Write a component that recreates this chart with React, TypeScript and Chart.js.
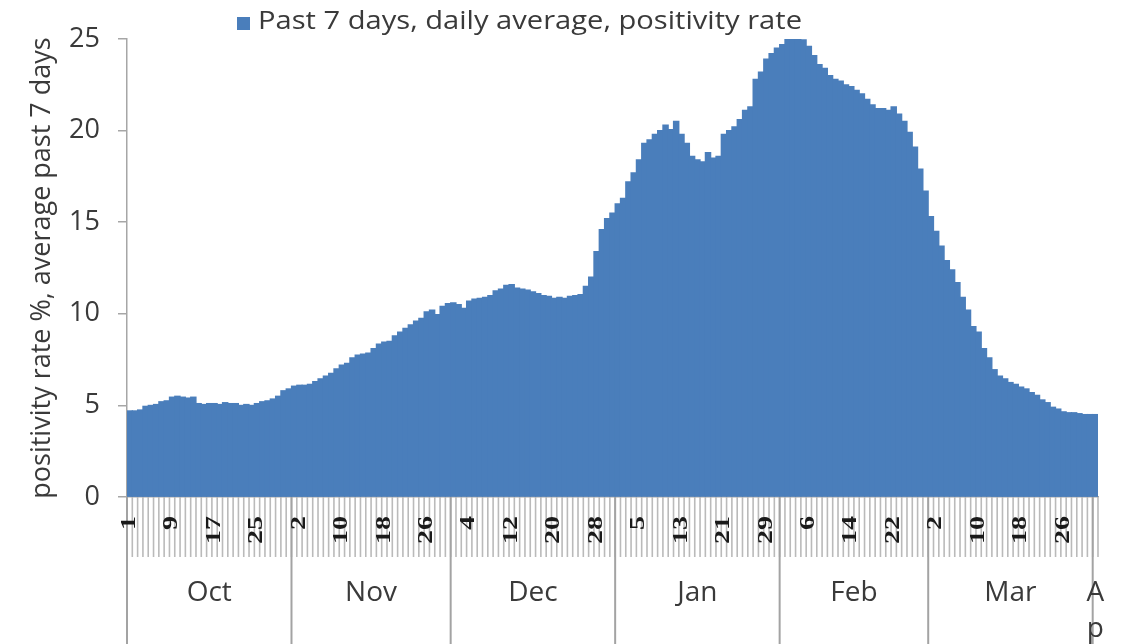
import React, { useEffect, useRef } from 'react';
import { Chart, registerables } from 'chart.js';

Chart.register(...registerables);

// ---- data -------------------------------------------------------------
const MONTHS = ['Oct', 'Nov', 'Dec', 'Jan', 'Feb', 'Mar', 'Apr'];

const OCT_VALUES = [
  4.7, 4.7, 4.75, 4.95, 5.0, 5.05, 5.2, 5.25, 5.45, 5.5,
  5.45, 5.4, 5.45, 5.1, 5.05, 5.1, 5.1, 5.05, 5.15, 5.1,
  5.1, 5.0, 5.05, 5.0, 5.1, 5.2, 5.25, 5.35, 5.5, 5.8, 5.9,
];
const NOV_VALUES = [
  6.05, 6.1, 6.1, 6.15, 6.3, 6.45, 6.6, 6.75, 7.0, 7.2,
  7.3, 7.6, 7.75, 7.8, 7.85, 8.1, 8.35, 8.45, 8.5, 8.8,
  9.0, 9.2, 9.4, 9.6, 9.75, 10.1, 10.2, 9.95, 10.4, 10.55,
];
const DEC_VALUES = [
  10.6, 10.5, 10.3, 10.7, 10.8, 10.85, 10.9, 11.0, 11.25, 11.35,
  11.55, 11.6, 11.4, 11.35, 11.3, 11.2, 11.1, 11.0, 10.95, 10.85,
  10.9, 10.85, 10.95, 11.0, 11.05, 11.5, 12.0, 13.4, 14.6, 15.2, 15.5,
];
const JAN_VALUES = [
  16.0, 16.3, 17.2, 17.7, 18.4, 19.3, 19.5, 19.8, 20.0, 20.3,
  20.05, 20.5, 19.8, 19.3, 18.6, 18.4, 18.3, 18.8, 18.5, 18.6,
  19.8, 20.0, 20.2, 20.6, 21.1, 21.3, 22.8, 23.2, 23.9, 24.2, 24.5,
];
const FEB_VALUES = [
  24.7, 25.0, 25.0, 25.0, 24.95, 24.6, 24.1, 23.6, 23.4, 23.0,
  22.8, 22.7, 22.5, 22.4, 22.2, 22.0, 21.7, 21.4, 21.2, 21.2,
  21.1, 21.3, 20.9, 20.5, 19.9, 19.1, 17.9, 16.7,
];
const MAR_VALUES = [
  15.3, 14.5, 13.7, 12.9, 12.4, 11.7, 10.9, 10.2, 9.3, 9.0,
  8.1, 7.6, 6.95, 6.6, 6.45, 6.25, 6.15, 6.0, 5.9, 5.7,
  5.55, 5.3, 5.15, 4.9, 4.8, 4.65, 4.6, 4.6, 4.55, 4.5, 4.5,
];
const APR_VALUES = [4.5];

const MONTH_VALUES = [OCT_VALUES, NOV_VALUES, DEC_VALUES, JAN_VALUES, FEB_VALUES, MAR_VALUES, APR_VALUES];

const SERIES_LABEL = 'Past 7 days, daily average, positivity rate';
const Y_TITLE = 'positivity rate %, average past 7 days';
const Y_TICKS = [0, 5, 10, 15, 20, 25];
const DAY_LABEL_EVERY = 8;

// derived category table
const DAY_NUMBERS: number[] = [];
const CATEGORY_LABELS: string[] = [];
const VALUES: number[] = [];
const MONTH_STARTS: number[] = [];
MONTH_VALUES.forEach((arr, m) => {
  MONTH_STARTS.push(VALUES.length);
  arr.forEach((v, d) => {
    DAY_NUMBERS.push(d + 1);
    CATEGORY_LABELS.push(`${MONTHS[m]} ${d + 1}`);
    VALUES.push(v);
  });
});

// ---- styles -------------------------------------------------------------
const BAR_COLOR = '#4a7ebb';
const TEXT_COLOR = '#3a3a3a';
const AXIS_COLOR = '#a6a6a6';
const SANS = '"Open Sans", "Liberation Sans", sans-serif';

const excelAxisPlugin = {
  id: 'excelAxis',
  afterDraw(chart: any) {
    const { ctx, chartArea, scales } = chart;
    const x = scales.x;
    const n = CATEGORY_LABELS.length;
    const half = (x.getPixelForValue(1) - x.getPixelForValue(0)) / 2;
    const top = chartArea.bottom;
    const stripeBottom = top + 60;
    const H = chart.height;

    ctx.save();
    // day tick stripes
    ctx.strokeStyle = '#bababa';
    ctx.lineWidth = 1.6;
    for (let i = 0; i <= n; i++) {
      const px = x.getPixelForValue(i) - half;
      ctx.beginPath();
      ctx.moveTo(px, top);
      ctx.lineTo(px, stripeBottom);
      ctx.stroke();
    }
    // month separators
    ctx.strokeStyle = '#a3a3a3';
    ctx.lineWidth = 2;
    MONTH_STARTS.forEach((s) => {
      const px = x.getPixelForValue(s) - half;
      ctx.beginPath();
      ctx.moveTo(px, top);
      ctx.lineTo(px, H);
      ctx.stroke();
    });

    // day labels (rotated, reading bottom to top)
    ctx.fillStyle = '#1a1a1a';
    ctx.font = 'bold 20px "Liberation Serif", serif';
    for (let i = 0; i < n; i++) {
      if (i % DAY_LABEL_EVERY !== 0) continue;
      const px = x.getPixelForValue(i);
      ctx.save();
      ctx.translate(px, top + 19);
      ctx.rotate(-Math.PI / 2);
      ctx.scale(1.4, 1);
      ctx.textAlign = 'right';
      ctx.textBaseline = 'middle';
      ctx.fillText(String(DAY_NUMBERS[i]), 0, 0);
      ctx.restore();
    }

    // month labels
    ctx.fillStyle = TEXT_COLOR;
    ctx.font = `28px ${SANS}`;
    ctx.textAlign = 'center';
    ctx.textBaseline = 'middle';
    MONTH_STARTS.forEach((s, m) => {
      const end = m + 1 < MONTH_STARTS.length ? MONTH_STARTS[m + 1] : n;
      const left = x.getPixelForValue(s) - half;
      const right = x.getPixelForValue(end) - half;
      const cx = (left + right) / 2;
      const name = MONTHS[m];
      if (right - left < 40) {
        name.split('').forEach((ch, k) => ctx.fillText(ch, cx, 593 + k * 36));
      } else {
        ctx.fillText(name, cx, 593);
      }
    });

    // legend
    ctx.fillStyle = BAR_COLOR;
    ctx.fillRect(237, 17, 13, 13);
    ctx.fillStyle = TEXT_COLOR;
    ctx.font = `26px ${SANS}`;
    ctx.textAlign = 'left';
    ctx.textBaseline = 'middle';
    const label = chart.data.datasets[0].label;
    const w = ctx.measureText(label).width;
    ctx.save();
    ctx.translate(258, 22);
    ctx.scale(544 / w, 1);
    ctx.fillText(label, 0, 0);
    ctx.restore();
    ctx.restore();
  },
};

export default function App() {
  const canvasRef = useRef<HTMLCanvasElement | null>(null);

  useEffect(() => {
    if (!canvasRef.current) return;
    const chart = new Chart(canvasRef.current, {
      type: 'bar',
      data: {
        labels: CATEGORY_LABELS,
        datasets: [
          {
            label: SERIES_LABEL,
            data: VALUES,
            backgroundColor: BAR_COLOR,
            borderWidth: 0,
            barPercentage: 1,
            categoryPercentage: 1,
            inflateAmount: 0.6,
          } as any,
        ],
      },
      options: {
        animation: false,
        responsive: false,
        maintainAspectRatio: false,
        devicePixelRatio: 1,
        layout: { padding: { top: 39, right: 27, bottom: 0, left: 0 } },
        plugins: {
          legend: { display: false },
          tooltip: { enabled: false },
        },
        scales: {
          x: {
            type: 'category',
            offset: true,
            grid: { display: false },
            border: { display: true, color: AXIS_COLOR, width: 1.5 },
            ticks: { display: false },
            afterFit: (scale: any) => {
              scale.height = 147;
            },
          },
          y: {
            min: 0,
            max: 25,
            afterBuildTicks: (scale: any) => {
              scale.ticks = Y_TICKS.map((v) => ({ value: v }));
            },
            grid: {
              display: true,
              drawOnChartArea: false,
              drawTicks: true,
              tickLength: 9,
              color: AXIS_COLOR,
              lineWidth: 1.5,
            },
            border: { display: true, color: AXIS_COLOR, width: 1.5 },
            ticks: {
              padding: 18,
              color: TEXT_COLOR,
              font: { family: SANS, size: 27 },
            },
            title: {
              display: true,
              text: Y_TITLE,
              color: TEXT_COLOR,
              font: { family: SANS, size: 27 },
              padding: { top: 26, bottom: 0 },
            },
            afterFit: (scale: any) => {
              scale.width = 127;
            },
          },
        },
      },
      plugins: [excelAxisPlugin],
    });
    return () => chart.destroy();
  }, []);

  return (
    <div style={{ position: 'fixed', left: 0, top: 0, width: 1125, height: 644, background: '#ffffff' }}>
      <canvas ref={canvasRef} width={1125} height={644} style={{ width: 1125, height: 644 }} />
    </div>
  );
}
